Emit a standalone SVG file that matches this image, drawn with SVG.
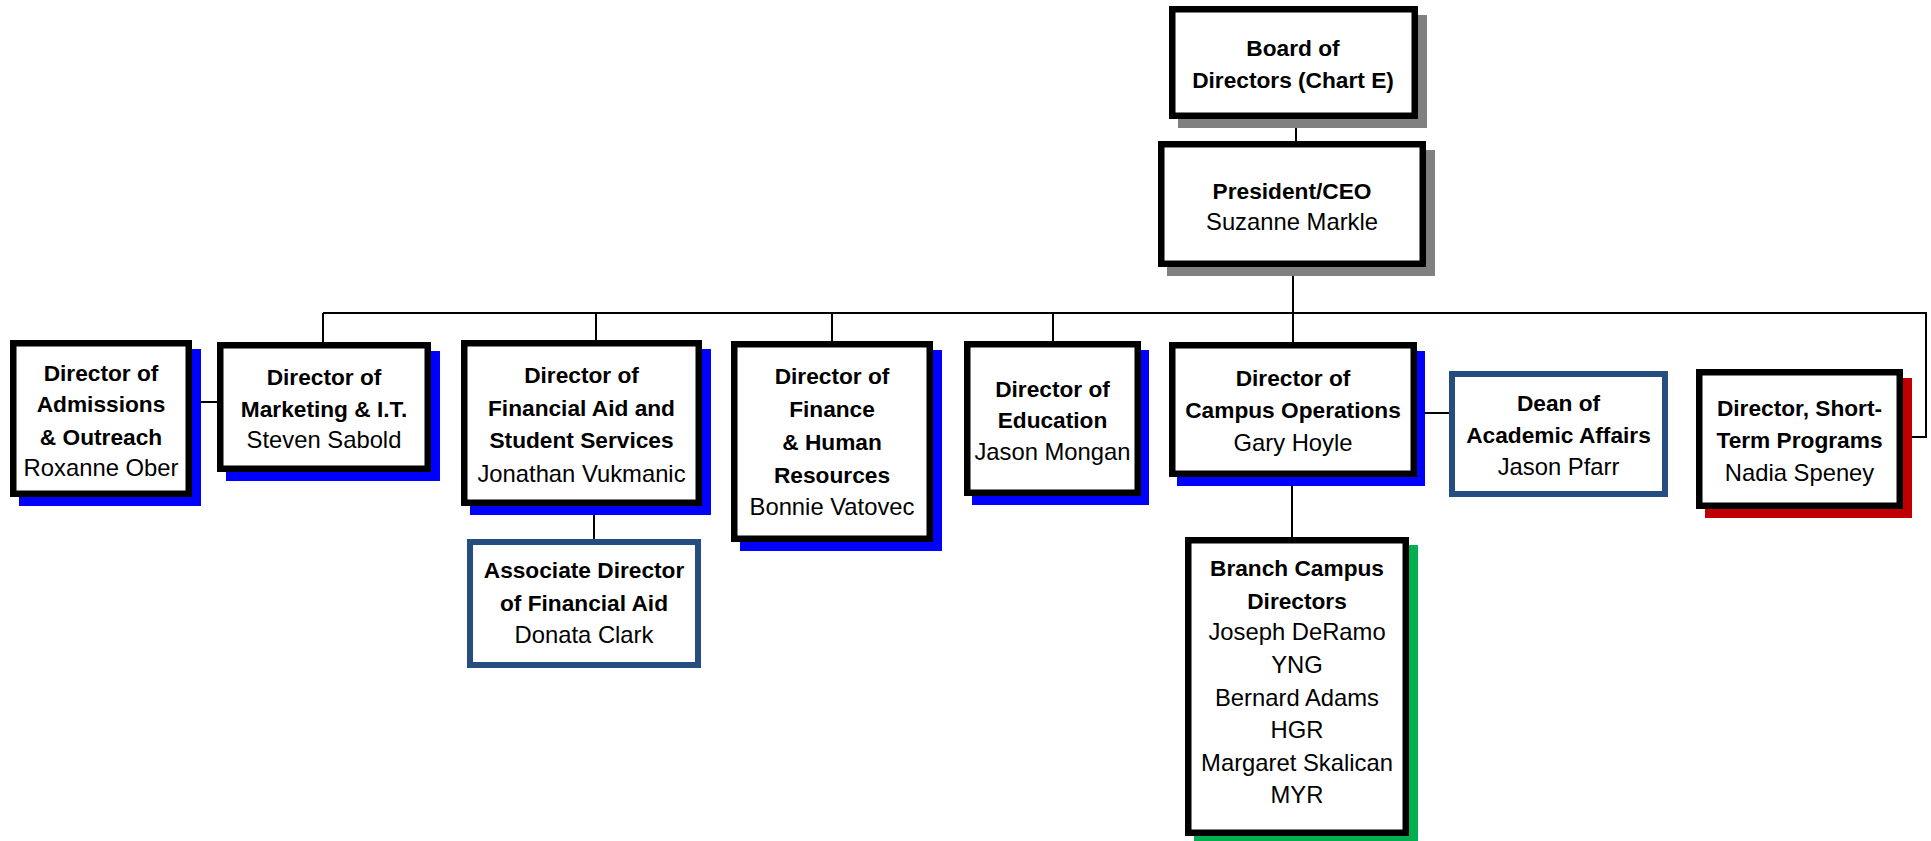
<svg xmlns="http://www.w3.org/2000/svg" width="1931" height="841" viewBox="0 0 1931 841">
<style>
.box{fill:#fff;stroke:#000;stroke-width:6.5}
.dbox{fill:#fff;stroke:#264D80;stroke-width:6}
.sg{fill:#808080}.sb{fill:#0000FF}.sr{fill:#C00000}.sn{fill:#00B050}
text{font-family:"Liberation Sans",Arial,sans-serif;fill:#000;text-anchor:middle}
.b{font-weight:bold;font-size:22.7px}
.r{font-size:23.8px}
.ln{stroke:#000;stroke-width:2;fill:none}
</style>
<rect width="1931" height="841" fill="#fff"/>
<g id="connectors">
<path class="ln" d="M1296 119V141"/>
<path class="ln" d="M1293 267V313"/>
<path class="ln" d="M323 313H1926V437H1903"/>
<path class="ln" d="M323 313V342M596 313V340M832 313V341M1053 313V341M1293 313V342"/>
<path class="ln" d="M192 402H217"/>
<path class="ln" d="M1417 413H1449"/>
<path class="ln" d="M594 506V539"/>
<path class="ln" d="M1292 477V537"/>
</g>
<g id="board">
<rect class="sg" x="1178" y="15" width="249" height="113"/>
<rect class="box" x="1172.25" y="9.25" width="242.5" height="106.5"/>
<text class="b" x="1293" y="56">Board of</text>
<text class="b" x="1293" y="88">Directors (Chart E)</text>
</g>
<g id="president">
<rect class="sg" x="1167" y="150" width="268" height="126"/>
<rect class="box" x="1161.25" y="144.25" width="261.5" height="119.5"/>
<text class="b" x="1292" y="199">President/CEO</text>
<text class="r" x="1292" y="230">Suzanne Markle</text>
</g>
<g id="admissions">
<rect class="sb" x="19" y="349" width="182" height="157"/>
<rect class="box" x="13.25" y="343.25" width="175.5" height="150.5"/>
<text class="b" x="101" y="381">Director of</text>
<text class="b" x="101" y="412">Admissions</text>
<text class="b" x="101" y="445">&amp; Outreach</text>
<text class="r" x="101" y="476">Roxanne Ober</text>
</g>
<g id="marketing">
<rect class="sb" x="226" y="351" width="214" height="130"/>
<rect class="box" x="220.25" y="345.25" width="207.5" height="123.5"/>
<text class="b" x="324" y="385">Director of</text>
<text class="b" x="324" y="417">Marketing &amp; I.T.</text>
<text class="r" x="324" y="448">Steven Sabold</text>
</g>
<g id="finaid">
<rect class="sb" x="470" y="349" width="241" height="166"/>
<rect class="box" x="464.25" y="343.25" width="234.5" height="159.5"/>
<text class="b" x="581.5" y="383">Director of</text>
<text class="b" x="581.5" y="416">Financial Aid and</text>
<text class="b" x="581.5" y="448">Student Services</text>
<text class="r" x="581.5" y="482">Jonathan Vukmanic</text>
</g>
<g id="finance">
<rect class="sb" x="740" y="350" width="202" height="201"/>
<rect class="box" x="734.25" y="344.25" width="195.5" height="194.5"/>
<text class="b" x="832" y="384">Director of</text>
<text class="b" x="832" y="417">Finance</text>
<text class="b" x="832" y="450">&amp; Human</text>
<text class="b" x="832" y="483">Resources</text>
<text class="r" x="832" y="515">Bonnie Vatovec</text>
</g>
<g id="education">
<rect class="sb" x="972" y="350" width="177" height="155"/>
<rect class="box" x="967.25" y="344.25" width="170.5" height="148.5"/>
<text class="b" x="1052.5" y="397">Director of</text>
<text class="b" x="1052.5" y="428">Education</text>
<text class="r" x="1052.5" y="460">Jason Mongan</text>
</g>
<g id="campus">
<rect class="sb" x="1177" y="351" width="248" height="135"/>
<rect class="box" x="1172.25" y="345.25" width="241.5" height="128.5"/>
<text class="b" x="1293" y="386">Director of</text>
<text class="b" x="1293" y="418">Campus Operations</text>
<text class="r" x="1293" y="451">Gary Hoyle</text>
</g>
<g id="dean">
<rect class="dbox" x="1452" y="374" width="213" height="120"/>
<text class="b" x="1558.5" y="411">Dean of</text>
<text class="b" x="1558.5" y="443">Academic Affairs</text>
<text class="r" x="1558.5" y="475">Jason Pfarr</text>
</g>
<g id="shortterm">
<rect class="sr" x="1705" y="378" width="207" height="140"/>
<rect class="box" x="1699.25" y="372.25" width="200.5" height="133.5"/>
<text class="b" x="1799.5" y="416">Director, Short-</text>
<text class="b" x="1799.5" y="448">Term Programs</text>
<text class="r" x="1799.5" y="481">Nadia Speney</text>
</g>
<g id="associate">
<rect class="dbox" x="470" y="542" width="228" height="123"/>
<text class="b" x="584" y="578">Associate Director</text>
<text class="b" x="584" y="611">of Financial Aid</text>
<text class="r" x="584" y="643">Donata Clark</text>
</g>
<g id="branch">
<rect class="sn" x="1194" y="545" width="224" height="299"/>
<rect class="box" x="1188.25" y="540.25" width="217.5" height="292.5"/>
<text class="b" x="1297" y="576">Branch Campus</text>
<text class="b" x="1297" y="609">Directors</text>
<text class="r" x="1297" y="640">Joseph DeRamo</text>
<text class="r" x="1297" y="673">YNG</text>
<text class="r" x="1297" y="706">Bernard Adams</text>
<text class="r" x="1297" y="738">HGR</text>
<text class="r" x="1297" y="771">Margaret Skalican</text>
<text class="r" x="1297" y="803">MYR</text>
</g>
</svg>
